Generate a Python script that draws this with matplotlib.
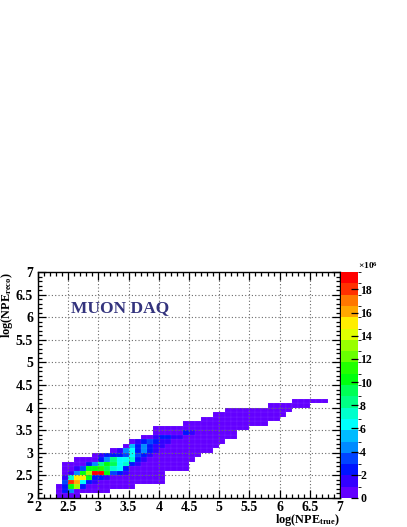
import colorsys
import numpy as np
import matplotlib
matplotlib.use("Agg")
import matplotlib.pyplot as plt
from matplotlib.colors import ListedColormap, BoundaryNorm
from matplotlib.ticker import MultipleLocator

# ---------------- data (bin contents in units of 1e6) ----------------
x_range = (2.0, 7.0)
y_range = (2.0, 7.0)
n_bins = 50
# first x-bin index of each filled y-row (y rows start at 2.0, step 0.1)
row_start = [3, 3, 3, 4, 4, 4, 4, 4, 6, 9, 12, 14, 15, 17, 19, 19, 24, 27, 29, 31, 38, 42]
row_counts = [
    [0.5, 0.9, 0.7, 0.3],
    [0.5, 2.4, 4.4, 0.8, 0.6, 0.4, 0.3, 0.2, 0.2],
    [0.5, 2.4, 10.4, 13.4, 2.4, 0.8, 0.6, 0.4, 0.3, 0.3, 0.2, 0.2, 0.1],
    [3.4, 17.9, 16.4, 6.4, 2.4, 1.5, 0.8, 0.6, 0.5, 0.4, 0.3, 0.3, 0.2, 0.2, 0.1, 0.1, 0.1],
    [1.5, 7.4, 15.4, 15.4, 10.4, 2.4, 2.4, 1.5, 0.8, 0.6, 0.5, 0.4, 0.3, 0.2, 0.2, 0.1, 0.1],
    [0.6, 1.5, 4.4, 10.4, 13.4, 19.5, 19.1, 10.4, 3.4, 2.4, 1.5, 0.8, 0.6, 0.4, 0.3, 0.2, 0.1],
    [0.4, 0.6, 1.5, 3.4, 10.4, 10.4, 11.4, 9.4, 7.4, 6.4, 2.4, 0.9, 0.7, 0.5, 0.4, 0.3, 0.2, 0.2, 0.1, 0.1, 0.1],
    [0.3, 0.4, 0.5, 0.6, 2.4, 4.4, 8.4, 10.4, 9.4, 6.4, 7.4, 2.4, 1.5, 0.8, 0.6, 0.4, 0.3, 0.2, 0.2, 0.1, 0.1],
    [0.3, 0.4, 0.5, 0.7, 2.4, 4.4, 8.4, 6.4, 6.4, 7.4, 2.4, 1.5, 0.9, 0.7, 0.5, 0.4, 0.3, 0.2, 0.1, 0.1],
    [0.6, 1.5, 2.4, 2.4, 2.4, 3.4, 6.4, 3.4, 2.4, 1.5, 0.9, 0.7, 0.5, 0.4, 0.3, 0.2, 0.1, 0.1],
    [0.6, 1.5, 4.4, 6.4, 2.4, 4.4, 2.4, 1.5, 0.9, 0.8, 0.6, 0.5, 0.4, 0.3, 0.2, 0.1, 0.1],
    [0.8, 5.4, 2.4, 4.4, 2.4, 1.5, 1.2, 0.9, 0.7, 0.6, 0.5, 0.4, 0.3, 0.2, 0.1, 0.1],
    [0.8, 1.5, 2.4, 3.4, 2.4, 1.5, 1.2, 0.9, 0.7, 0.6, 0.5, 0.4, 0.3, 0.2, 0.1, 0.1],
    [0.7, 0.9, 1.5, 2.4, 2.4, 1.5, 1.2, 0.9, 0.8, 0.6, 0.5, 0.4, 0.3, 0.2, 0.1, 0.1],
    [0.4, 0.5, 0.7, 0.8, 0.9, 2.4, 1.5, 0.9, 0.7, 0.5, 0.4, 0.3, 0.2, 0.1],
    [0.2, 0.3, 0.4, 0.5, 0.6, 0.7, 0.8, 0.7, 0.6, 0.5, 0.4, 0.3, 0.3, 0.2, 0.1, 0.1],
    [0.2, 0.3, 0.4, 0.5, 0.5, 0.6, 0.5, 0.5, 0.4, 0.3, 0.3, 0.2, 0.1, 0.1],
    [0.2, 0.3, 0.4, 0.4, 0.5, 0.5, 0.4, 0.4, 0.3, 0.3, 0.2, 0.1, 0.1],
    [0.2, 0.2, 0.3, 0.4, 0.4, 0.4, 0.3, 0.3, 0.2, 0.2, 0.1, 0.1],
    [0.1, 0.2, 0.2, 0.3, 0.3, 0.3, 0.2, 0.2, 0.2, 0.1, 0.1],
    [0.1, 0.1, 0.2, 0.2, 0.1, 0.1, 0.1],
    [0.1, 0.1, 0.1, 0.1, 0.1, 0.1],
]
x_ticks = [2, 2.5, 3, 3.5, 4, 4.5, 5, 5.5, 6, 6.5, 7]
y_ticks = [2, 2.5, 3, 3.5, 4, 4.5, 5, 5.5, 6, 6.5, 7]
x_tick_labels = ["2", "2.5", "3", "3.5", "4", "4.5", "5", "5.5", "6", "6.5", "7"]
y_tick_labels = ["2", "2.5", "3", "3.5", "4", "4.5", "5", "5.5", "6", "6.5", "7"]
z_ticks = [0, 2, 4, 6, 8, 10, 12, 14, 16, 18]
z_tick_labels = ["0", "2", "4", "6", "8", "10", "12", "14", "16", "18"]
label_text = "MUON DAQ"

# ---------------- build histogram ----------------
z = np.zeros((n_bins, n_bins))
for j, (s, vals) in enumerate(zip(row_start, row_counts)):
    z[j, s:s + len(vals)] = vals
zm = np.ma.masked_less_equal(z, 0)
x_edges = np.linspace(x_range[0], x_range[1], n_bins + 1)
y_edges = np.linspace(y_range[0], y_range[1], n_bins + 1)

# ROOT "pretty" palette (violet -> red), 20 contour levels
n_cont = 20
n_pal = 50
colors = []
for k in range(n_cont):
    idx = int((k + 0.99) * n_pal / n_cont)
    hue = 0.0 if idx >= n_pal - 1 else 280 - (idx + 1) * (280 / n_pal)
    colors.append(colorsys.hls_to_rgb(hue / 360.0, 0.5, 1.0))
cmap = ListedColormap(colors)
zmax = z.max()
levels = np.linspace(0, zmax, n_cont + 1)
norm = BoundaryNorm(levels, n_cont, clip=True)

# ---------------- figure ----------------
plt.rcParams["font.family"] = ["Liberation Serif", "DejaVu Serif"]
plt.rcParams["font.weight"] = "bold"
plt.rcParams["mathtext.fontset"] = "custom"
plt.rcParams["mathtext.rm"] = "Liberation Serif:bold"
plt.rcParams["mathtext.bf"] = "Liberation Serif:bold"
plt.rcParams["mathtext.it"] = "Liberation Serif:bold"

W, H = 407, 527
fig = plt.figure(figsize=(W / 100, H / 100), dpi=100)
ax = fig.add_axes([38 / W, 1 - 498 / H, (340 - 38) / W, (498 - 272) / H])
mesh = ax.pcolormesh(x_edges, y_edges, zm, cmap=cmap, norm=norm,
                     edgecolors=(1, 1, 1, 0.12), linewidth=0.3,
                     antialiased=True, zorder=1)
ax.set_xlim(*x_range)
ax.set_ylim(*y_range)
ax.set_xticks(x_ticks)
ax.set_xticklabels(x_tick_labels)
ax.set_yticks(y_ticks)
ax.set_yticklabels(y_tick_labels)
ax.xaxis.set_minor_locator(MultipleLocator(0.1))
ax.yaxis.set_minor_locator(MultipleLocator(0.1))
ax.tick_params(which="both", direction="in", top=True, right=True,
               labelsize=10, width=0.9, colors="black")
ax.tick_params(which="major", length=6)
ax.tick_params(which="minor", length=3)
ax.tick_params(axis="x", pad=2)
ax.tick_params(axis="y", pad=3.5)
for lab in ax.get_xticklabels() + ax.get_yticklabels():
    lab.set_fontweight("bold")
ax.set_axisbelow(False)
ax.grid(True, which="major", color="#6a6a6a", linestyle=(0, (1, 2)),
        linewidth=0.8, zorder=3)
for sp in ax.spines.values():
    sp.set_linewidth(1.0)
    sp.set_zorder(4)

fig.text(340 / W, 1 - 511.5 / H, r"log(NPE$_{\mathrm{true}}$)",
         ha="right", va="top", fontsize=8.8, fontweight="bold")
fig.text(7.5 / W, 1 - 272 / H, r"log(NPE$_{\mathrm{reco}}$)", rotation=90,
         ha="center", va="top", fontsize=8.8, fontweight="bold")
fig.text(71 / W, 1 - 308 / H, label_text, ha="left", va="center",
         fontsize=12.5, fontweight="bold", color="#33337d")

# colour palette
cax = fig.add_axes([341 / W, 1 - 498 / H, 17 / W, (498 - 272) / H])
cb = fig.colorbar(mesh, cax=cax, boundaries=levels, ticks=z_ticks)
cb.set_ticklabels(z_tick_labels)
cb.outline.set_visible(False)
cax.tick_params(direction="in", length=5, width=0.9, pad=1.5,
                labelsize=8.5, right=True, left=False)
for lab in cax.get_yticklabels():
    lab.set_fontweight("bold")
fig.text(358 / W, 1 - 271 / H, r"$\times$10$^{6}$", ha="left", va="bottom",
         fontsize=6.8, fontweight="bold")

fig.savefig("out.png", dpi=100, facecolor="white")
